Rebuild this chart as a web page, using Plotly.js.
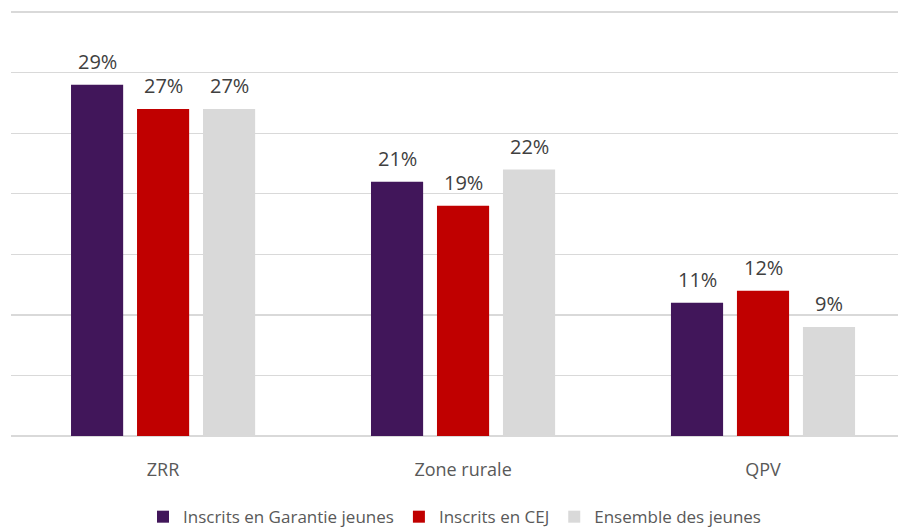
<!DOCTYPE html>
<html>
<head>
<meta charset="utf-8">
<script src="https://cdn.plot.ly/plotly-3.0.1.min.js"></script>
<style>html,body{margin:0;padding:0;background:#fff;overflow:hidden}</style>
</head>
<body>
<div id="chart" style="width:898px;height:531px"></div>
<script>
const categories = ["ZRR", "Zone rurale", "QPV"];
const seriesNames = ["Inscrits en Garantie jeunes", "Inscrits en CEJ", "Ensemble des jeunes"];
const garantieJeunes = [29, 21, 11];
const cej = [27, 19, 12];
const ensemble = [27, 22, 9];
const colors = ["#41165A", "#C00000", "#D9D9D9"];

const values = [garantieJeunes, cej, ensemble];
const traces = values.map((v, i) => ({
  type: "bar",
  name: seriesNames[i],
  x: categories,
  y: v,
  marker: {color: colors[i]},
  hoverinfo: "none"
}));

// value labels above each bar (grouped offsets: slot width 66px)
const annotations = [];
values.forEach((v, i) => {
  v.forEach((d, j) => {
    annotations.push({
      x: categories[j], y: d, xref: "x", yref: "y",
      text: d + "%", showarrow: false,
      xanchor: "center", yanchor: "bottom",
      xshift: (i - 1) * 66, yshift: 8,
      font: {color: "#404040", size: 20, family: "Open Sans, sans-serif"}
    });
  });
});

const layout = {
  width: 898, height: 531,
  margin: {l: 11, r: 0, t: 6, b: 95},
  paper_bgcolor: "#fff", plot_bgcolor: "#fff",
  font: {family: "Open Sans, sans-serif", color: "#595959", size: 16},
  barmode: "group",
  bargap: 0.34,
  bargroupgap: 0.21,
  xaxis: {
    type: "category",
    range: [-0.507, 2.45],
    showgrid: false, showline: false, ticks: "",
    ticklabelstandoff: 21,
    tickfont: {size: 18, color: "#595959", family: "Open Sans, sans-serif"}
  },
  yaxis: {
    range: [0, 35.5],
    dtick: 5,
    showticklabels: false,
    showgrid: true, gridcolor: "#D9D9D9", gridwidth: 1.3,
    zeroline: true, zerolinecolor: "#D9D9D9", zerolinewidth: 1.3,
    showline: false
  },
  annotations: annotations,
  showlegend: true,
  legend: {
    orientation: "h", x: 0.5, xanchor: "center",
    yref: "container", y: 0.06, yanchor: "top",
    font: {size: 17, color: "#595959", family: "Open Sans, sans-serif"},
    itemwidth: 30
  }
};

Plotly.newPlot("chart", traces, layout, {displayModeBar: false, staticPlot: true});
</script>
</body>
</html>
